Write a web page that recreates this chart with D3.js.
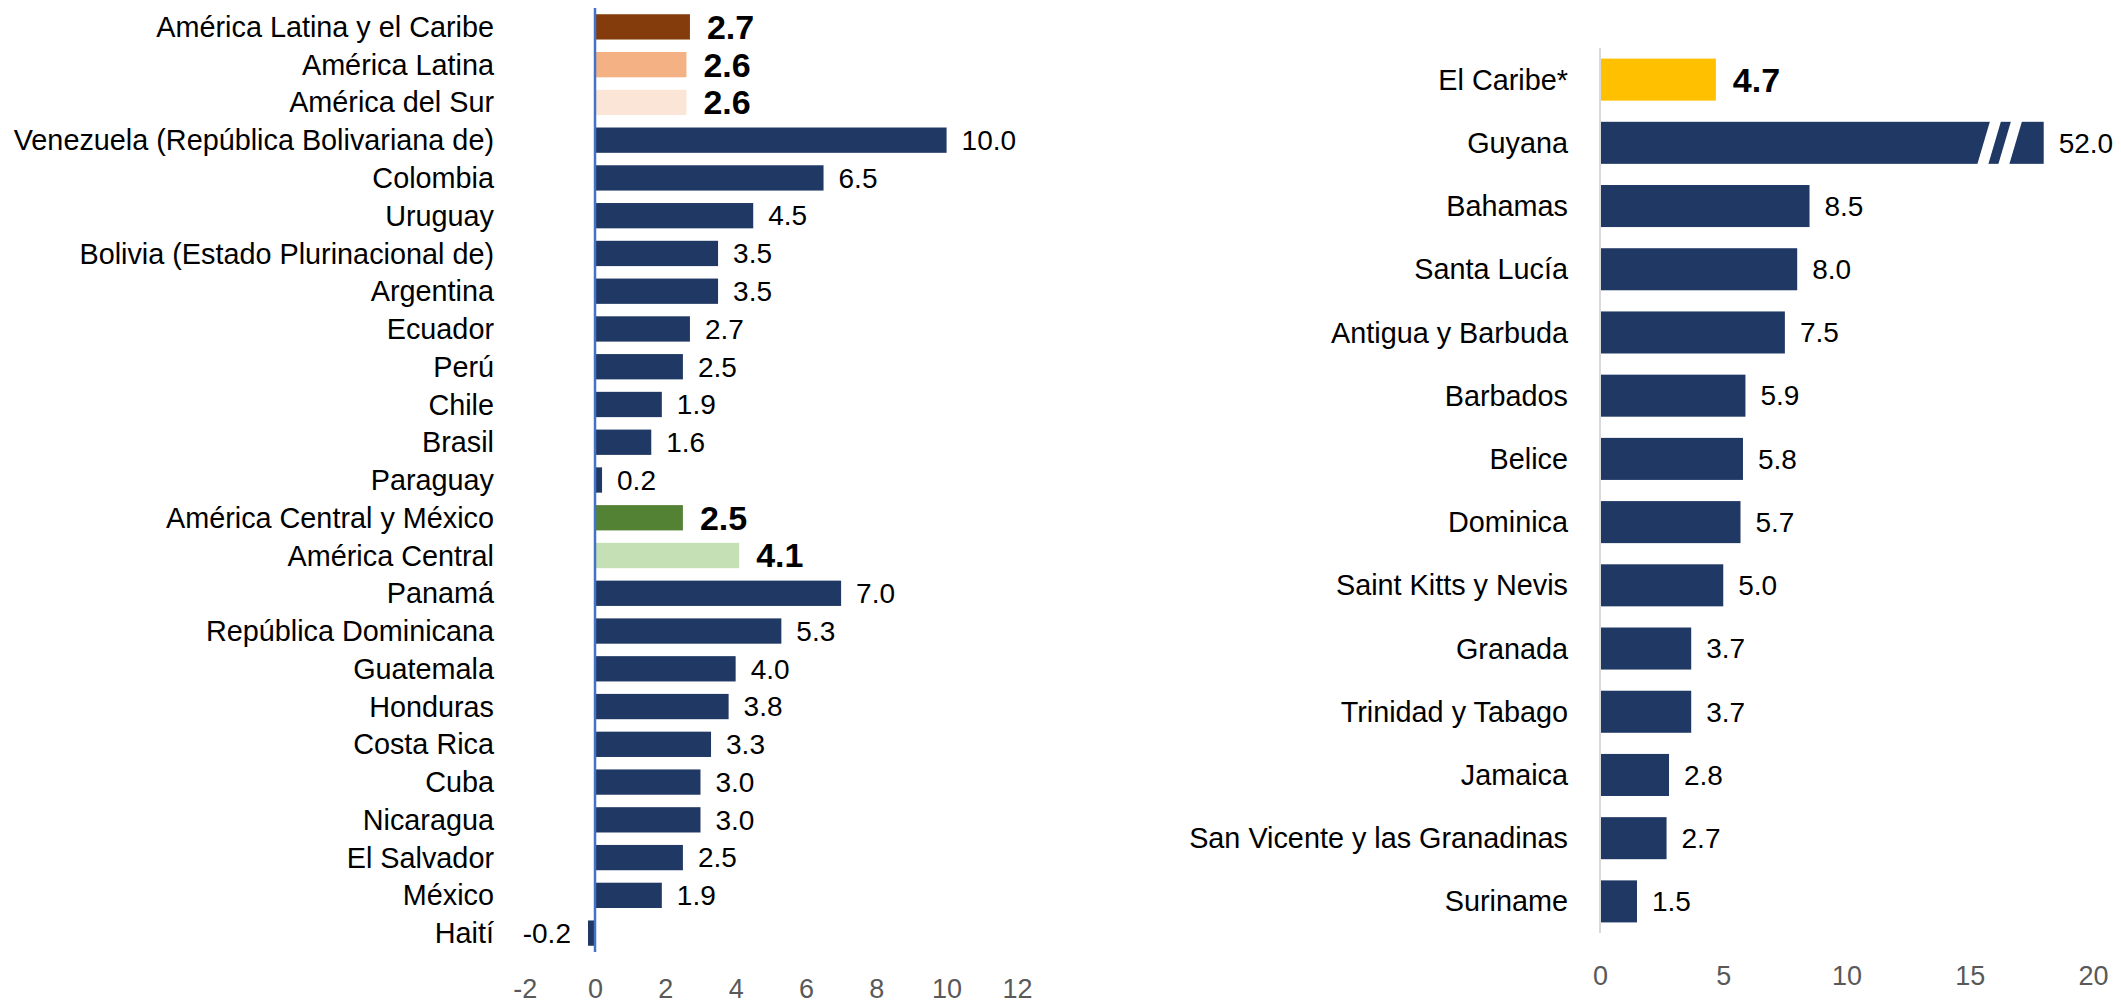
<!DOCTYPE html>
<html>
<head>
  <meta charset="UTF-8">
  <style>
    body { margin: 0; background: #fff; }
    svg text { font-family: "Liberation Sans", Arial, sans-serif; }
  </style>
</head>
<body>
  <svg></svg>
<script src="https://d3js.org/d3.v7.min.js"></script>

<script>
let width = 2121,
    height = 1006;

let svg = d3.select("svg")
    .attr("width", width)
    .attr("height", height);

// left panel: Latin America
let leftCats = ["América Latina y el Caribe", "América Latina", "América del Sur",
  "Venezuela (República Bolivariana de)", "Colombia", "Uruguay", "Bolivia (Estado Plurinacional de)",
  "Argentina", "Ecuador", "Perú", "Chile", "Brasil", "Paraguay", "América Central y México",
  "América Central", "Panamá", "República Dominicana", "Guatemala", "Honduras", "Costa Rica",
  "Cuba", "Nicaragua", "El Salvador", "México", "Haití"];
let leftVals = [2.7, 2.6, 2.6, 10.0, 6.5, 4.5, 3.5, 3.5, 2.7, 2.5, 1.9, 1.6, 0.2, 2.5, 4.1,
  7.0, 5.3, 4.0, 3.8, 3.3, 3.0, 3.0, 2.5, 1.9, -0.2];
let leftTicks = [-2, 0, 2, 4, 6, 8, 10, 12];

// right panel: Caribbean
let rightCats = ["El Caribe*", "Guyana", "Bahamas", "Santa Lucía", "Antigua y Barbuda", "Barbados",
  "Belice", "Dominica", "Saint Kitts y Nevis", "Granada", "Trinidad y Tabago", "Jamaica",
  "San Vicente y las Granadinas", "Suriname"];
let rightVals = [4.7, 52.0, 8.5, 8.0, 7.5, 5.9, 5.8, 5.7, 5.0, 3.7, 3.7, 2.8, 2.7, 1.5];
let rightTicks = [0, 5, 10, 15, 20];
let guyanaShown = 18; // bar cut with a break mark
let breakAt = 15.3;

let aggColors = {
  "América Latina y el Caribe": "#843C0C",
  "América Latina": "#F4B183",
  "América del Sur": "#FBE5D6",
  "América Central y México": "#548235",
  "América Central": "#C5E0B4",
  "El Caribe*": "#FFC000"
};
let navy = "#203864";

let leftData = leftCats.map((c, i) => ({ cat: c, val: leftVals[i] }));
let rightData = rightCats.map((c, i) => ({ cat: c, val: rightVals[i] }));

function panel(data, opt) {
  let x = d3.scaleLinear().domain(opt.domain).range(opt.xRange);
  let y = d3.scaleBand().domain(data.map(d => d.cat)).range(opt.yRange).paddingInner(opt.pad).paddingOuter(opt.pad / 2);
  let g = svg.append("g");
  let cap = opt.cap || Infinity;

  // bars
  g.selectAll("rect.bar")
    .data(data)
    .enter()
    .append("rect")
    .attr("class", "bar")
    .attr("x", d => x(Math.min(0, d.val)))
    .attr("y", d => y(d.cat))
    .attr("height", y.bandwidth())
    .attr("width", d => Math.abs(x(Math.min(d.val, cap)) - x(0)))
    .attr("fill", d => aggColors[d.cat] || navy);

  // category labels
  g.selectAll("text.cat")
    .data(data)
    .enter()
    .append("text")
    .attr("class", "cat")
    .attr("x", opt.labelX)
    .attr("y", d => y(d.cat) + y.bandwidth() / 2)
    .attr("dy", "0.35em")
    .attr("text-anchor", "end")
    .style("font-size", "28.8px")
    .style("fill", "#000")
    .text(d => d.cat);

  // value labels
  g.selectAll("text.val")
    .data(data)
    .enter()
    .append("text")
    .attr("class", "val")
    .attr("x", d => d.val < 0 ? x(d.val) - 17 : x(Math.min(d.val, cap)) + (aggColors[d.cat] ? 17 : 15))
    .attr("y", d => y(d.cat) + y.bandwidth() / 2)
    .attr("dy", "0.35em")
    .attr("text-anchor", d => d.val < 0 ? "end" : "start")
    .style("font-size", d => aggColors[d.cat] ? "34px" : "28px")
    .style("font-weight", d => aggColors[d.cat] ? "bold" : "normal")
    .style("fill", "#000")
    .text(d => d.val.toFixed(1));

  // zero line
  g.append("line")
    .attr("x1", x(0)).attr("x2", x(0))
    .attr("y1", opt.yRange[0]).attr("y2", opt.yRange[1])
    .attr("stroke", opt.zeroColor)
    .attr("stroke-width", opt.zeroWidth);

  // tick labels
  let axis = g.append("g")
    .attr("transform", "translate(0," + opt.tickY + ")")
    .call(d3.axisBottom(x).tickValues(opt.ticks).tickSize(0).tickPadding(0).tickFormat(d => String(d)));
  axis.select(".domain").remove();
  axis.selectAll("text")
    .attr("y", 0)
    .attr("dy", "0.35em")
    .style("font-family", "Liberation Sans, Arial, sans-serif")
    .style("font-size", "27px")
    .style("fill", "#595959");

  return { x: x, y: y, g: g };
}

let left = panel(leftData, {
  domain: [-2, 12], xRange: [524.7, 1016.9],
  yRange: [8, 952], pad: 0.33,
  labelX: 494, zeroColor: "#4472C4", zeroWidth: 2.5,
  ticks: leftTicks, tickY: 989
});

let right = panel(rightData, {
  domain: [0, 20], xRange: [1600, 2093],
  yRange: [48, 933], pad: 0.335, cap: guyanaShown,
  labelX: 1568, zeroColor: "#D9D9D9", zeroWidth: 2,
  ticks: rightTicks, tickY: 976
});

// break mark on Guyana bar
let gy = right.y("Guyana"), gh = right.y.bandwidth();
let bx = right.x(breakAt);
[0, 21].forEach(off => {
  let x0 = bx + off;
  right.g.append("polygon")
    .attr("points", [
      [x0, gy + gh + 1], [x0 + 11, gy + gh + 1],
      [x0 + 24, gy - 1], [x0 + 13, gy - 1]
    ].map(p => p.join(",")).join(" "))
    .attr("fill", "#fff");
});
</script>
</body>
</html>
